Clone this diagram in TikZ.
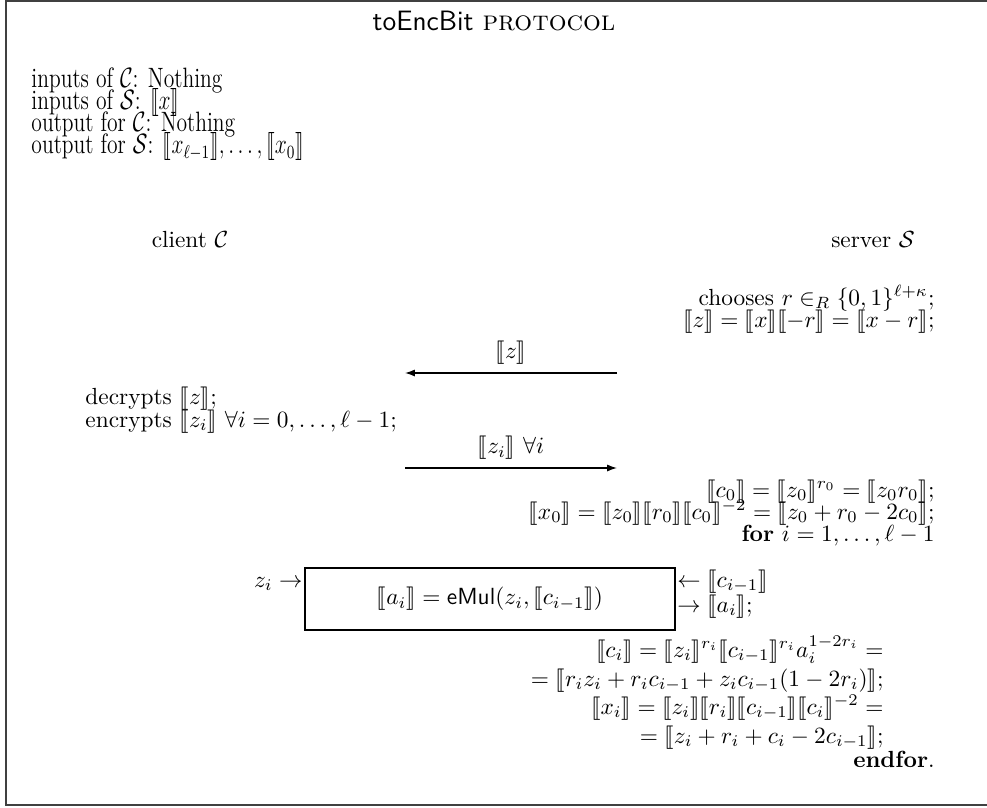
\documentclass[tikz,border=0pt]{standalone}
\usepackage{amsmath,amssymb}
\usepackage{stmaryrd}
\usepackage{graphicx}
\usetikzlibrary{arrows.meta,positioning}

\newcommand{\encb}[1]{\llbracket #1\rrbracket}
\newcommand{\narrowtxt}[1]{\scalebox{0.77}[1]{#1}}

\begin{document}
\begin{tikzpicture}[
    x=0.4286pt, y=-0.4286pt,
    txt/.style={inner sep=0pt, font=\normalsize},
    lt/.style={txt, anchor=base west},
    rt/.style={txt, anchor=base east},
    head/.style={lt, font=\large},
    msg/.style={-{Latex[length=4.2pt, width=3pt]}, line width=0.55pt},
    frame/.style={line width=0.65pt, draw=black!75}
]
\useasboundingbox (0,0) rectangle (987,807);
\draw[frame] (987,0.8) -- (6,0.8) -- (6,805) -- (987,805);

\node[txt, anchor=base, font=\large] (title) at (494,31) {\textsf{toEncBit} \textsc{protocol}};

% inputs and outputs
\node[head] (inC) at (31,88) {\narrowtxt{inputs of $\mathcal{C}$: Nothing}};
\node[head] (inS) at (31,110) {\narrowtxt{inputs of $\mathcal{S}$: $\encb{x}$}};
\node[head] (outC) at (31,132) {\narrowtxt{output for $\mathcal{C}$: Nothing}};
\node[head] (outS) at (31,154) {\narrowtxt{output for $\mathcal{S}$: $\encb{x_{\ell-1}},\ldots,\encb{x_0}$}};

% parties
\node[txt, anchor=base] (client) at (190,247) {client $\mathcal{C}$};
\node[txt, anchor=base] (server) at (873,247) {server $\mathcal{S}$};

\node[rt] (choose) at (935,305) {chooses $r \in_R \{0,1\}^{\ell+\kappa}$;};
\node[rt] (zval) at (935,327) {$\encb{z} = \encb{x}\encb{-r} = \encb{x-r}$;};

% first message
\coordinate (srv1) at (617,373);
\coordinate (cli1) at (405,373);
\draw[msg] (srv1) -- (cli1) node[midway, above=3.4pt, inner sep=0pt] (lblz) {$\encb{z}$};

\node[lt] (decr) at (85,404) {decrypts $\encb{z}$;};
\node[lt] (encr) at (85,427) {encrypts $\encb{z_i}$ $\forall i = 0,\ldots,\ell-1$;};

% second message
\coordinate (cli2) at (405,468);
\coordinate (srv2) at (617,468);
\draw[msg] (cli2) -- (srv2) node[midway, above=3.4pt, inner sep=0pt] (lblzi) {$\encb{z_i}$ $\forall i$};

\node[rt] (czero) at (935,497) {$\encb{c_0} = \encb{z_0}^{r_0} = \encb{z_0 r_0}$;};
\node[rt] (xzero) at (935,519) {$\encb{x_0} = \encb{z_0}\encb{r_0}\encb{c_0}^{-2} = \encb{z_0 + r_0 - 2c_0}$;};
\node[rt] (forl) at (935,541) {\textbf{for} $i = 1,\ldots,\ell-1$};

% eMul box
\node[draw, line width=0.5pt, minimum width=158.6pt, minimum height=26.6pt] (emul) at (490,599)
    {$\encb{a_i} = \mathsf{eMul}(z_i, \encb{c_{i-1}})$};
\node[rt] (zin) at (303,587) {$z_i \rightarrow$};
\node[lt] (cin) at (677,587) {$\leftarrow \encb{c_{i-1}}$};
\node[lt] (aout) at (677,612) {$\rightarrow \encb{a_i}$;};

% loop body
\node[rt] (ci1) at (884,657) {$\encb{c_i} = \encb{z_i}^{r_i}\encb{c_{i-1}}^{r_i} a_i^{1-2r_i} =$};
\node[rt] (ci2) at (884,686) {$= \encb{r_i z_i + r_i c_{i-1} + z_i c_{i-1}(1-2r_i)}$;};
\node[rt] (xi1) at (884,714) {$\encb{x_i} = \encb{z_i}\encb{r_i}\encb{c_{i-1}}\encb{c_i}^{-2} =$};
\node[rt] (xi2) at (884,743) {$= \encb{z_i + r_i + c_i - 2c_{i-1}}$;};
\node[rt] (endf) at (935,767) {\textbf{endfor}.};
\end{tikzpicture}
\end{document}
